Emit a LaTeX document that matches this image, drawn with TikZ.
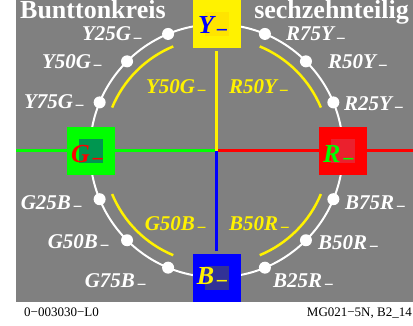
\documentclass[tikz,border=0pt]{standalone}
\usepackage{fontspec}
\setmainfont{Liberation Serif}
\definecolor{bg}{RGB}{128,128,128}
\definecolor{yin}{RGB}{255,228,0}
\definecolor{gin}{RGB}{0,150,80}
\definecolor{rin}{RGB}{235,32,45}
\definecolor{bin}{RGB}{50,50,150}
\newcommand\sublab[1]{#1\hspace{1.5pt}\raisebox{-3pt}{\fontsize{17}{17}\selectfont −}}
\newcommand\boxlab[1]{#1\hspace{1pt}\raisebox{-4pt}{\fontsize{22}{22}\selectfont −}}
\tikzset{
  lbl/.style={font=\fontsize{21}{21}\selectfont\bfseries\itshape, text=white, inner sep=0pt},
  ylbl/.style={lbl, text=yellow},
  hbox/.style={minimum size=48pt, inner sep=0pt, draw=none},
  insq/.style={minimum size=24pt, inner sep=0pt, draw=none},
  blbl/.style={font=\fontsize{26}{26}\selectfont\bfseries\itshape, inner sep=0pt, anchor=base west},
  ttl/.style={font=\fontsize{26}{26}\selectfont\bfseries, text=white, inner sep=0pt},
  foot/.style={font=\fontsize{13}{13}\selectfont, text=black, inner sep=0pt},
  axis/.style={line width=2.7pt}
}
\begin{document}
\begin{tikzpicture}[x=1pt,y=1pt]
\useasboundingbox (0,0) rectangle (413,325);
\fill[white] (0,0) rectangle (413,325);
\fill[bg] (16,23) rectangle (413,325);
\coordinate (O) at (216.5,174.2);
\coordinate (Lend) at (16,174.2);
\coordinate (Rend) at (413,174.2);
% axes
\draw[axis, green] (Lend) -- (O);
\draw[axis, red] (O) -- (Rend);
\draw[axis, yellow] (O) -- ++(0,100);
\draw[axis, blue] (O) -- ++(0,-100);
% circle
\draw[white, line width=2pt] (O) circle (126.5);
\foreach \a in {22.5,45,67.5,112.5,135,157.5,202.5,225,247.5,292.5,315,337.5}
  \fill[white] (O) ++(\a:126.5) circle (6);
% yellow arcs
\foreach \a in {22.5,112.5,202.5,292.5}
  \draw[yellow, line width=2.5pt] (O) ++(\a:113) arc (\a:\a+45:113);
% boxes
\node[hbox, fill=yellow] (Ybox) at (216.5,301) {};
\node[insq, fill=yin] (Yin) at (Ybox) {};
\node[hbox, fill=green] (Gbox) at (90.5,174.2) {};
\node[insq, fill=gin] (Gin) at (Gbox) {};
\node[hbox, fill=red] (Rbox) at (342.5,174.2) {};
\node[insq, fill=rin] (Rin) at (Rbox) {};
\node[hbox, fill=blue] (Bbox) at (216.5,47.5) {};
\node[insq, fill=bin] (Bin) at (Bbox) {};
\node[blbl, text=blue] (Yt) at (198,291) {\boxlab{Y}};
\node[blbl, text=red] (Gt) at (71,162.3) {\boxlab{G}};
\node[blbl, text=green] (Rt) at (323,162.3) {\boxlab{R}};
\node[blbl, text=yellow] (Bt) at (196.7,40.3) {\boxlab{B}};
% titles
\node[ttl, anchor=base west] (t1) at (20,306) {Bunttonkreis};
\node[ttl, anchor=base east] (t2) at (409,306) {sechzehnteilig};
% left labels
\node[lbl, anchor=base east] (l1) at (143,284) {\sublab{Y25G}};
\node[lbl, anchor=base east] (l2) at (103,257) {\sublab{Y50G}};
\node[lbl, anchor=base east] (l3) at (85,217) {\sublab{Y75G}};
\node[lbl, anchor=base east] (l4) at (83,116) {\sublab{G25B}};
\node[lbl, anchor=base east] (l5) at (110,77) {\sublab{G50B}};
\node[lbl, anchor=base east] (l6) at (147,38) {\sublab{G75B}};
\node[ylbl, anchor=base east] (y1) at (207,232) {\sublab{Y50G}};
\node[ylbl, anchor=base east] (y2) at (207,95) {\sublab{G50B}};
% right labels
\node[lbl, anchor=base west] (r1) at (286,284) {\sublab{R75Y}};
\node[lbl, anchor=base west] (r2) at (328,257) {\sublab{R50Y}};
\node[lbl, anchor=base west] (r3) at (344,215) {\sublab{R25Y}};
\node[lbl, anchor=base west] (r4) at (345,116) {\sublab{B75R}};
\node[lbl, anchor=base west] (r5) at (318,76) {\sublab{B50R}};
\node[lbl, anchor=base west] (r6) at (273,38) {\sublab{B25R}};
\node[ylbl, anchor=base west] (y3) at (229,232) {\sublab{R50Y}};
\node[ylbl, anchor=base west] (y4) at (229,95) {\sublab{B50R}};
% footer
\node[foot, anchor=base west] (f1) at (24,9) {0−003030−L0};
\node[foot, anchor=base east] (f2) at (412,9) {MG021−5N, B2\_14};
\end{tikzpicture}
\end{document}
